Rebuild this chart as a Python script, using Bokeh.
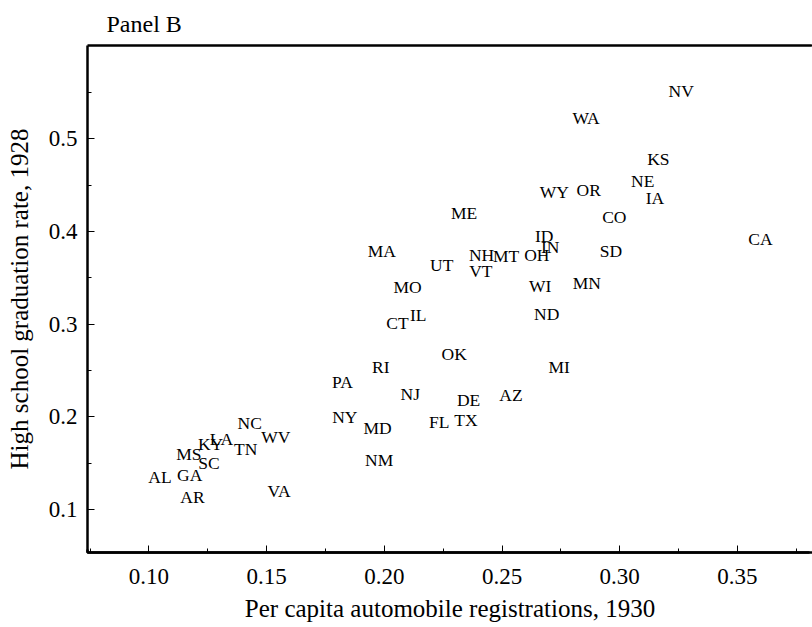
from bokeh.plotting import figure
from bokeh.models import ColumnDataSource, LinearAxis, FixedTicker, Range1d
from bokeh.core.properties import value
from bokeh.embed import file_html
from bokeh.resources import INLINE

# ---- data ----
states = ["NV", "WA", "KS", "NE", "IA", "WY", "OR", "ME", "CO", "ID", "IN", "CA",
          "NH", "MT", "OH", "SD", "VT", "WI", "MN", "ND", "MI", "AZ", "DE", "MA",
          "UT", "MO", "CT", "IL", "OK", "RI", "PA", "NJ", "NY", "MD", "FL", "TX",
          "NC", "WV", "NM", "LA", "KY", "TN", "MS", "SC", "AL", "GA", "AR", "VA"]
auto_reg_1930 = [0.3261, 0.2857, 0.3164, 0.3098, 0.3150, 0.2722, 0.2868, 0.2339,
                 0.2977, 0.2679, 0.2705, 0.3598, 0.2413, 0.2517, 0.2648, 0.2963,
                 0.2410, 0.2662, 0.2860, 0.2690, 0.2743, 0.2538, 0.2358, 0.1989,
                 0.2244, 0.2099, 0.2056, 0.2144, 0.2297, 0.1985, 0.1822, 0.2110,
                 0.1832, 0.1971, 0.2233, 0.2347, 0.1428, 0.1539, 0.1978, 0.1308,
                 0.1262, 0.1411, 0.1170, 0.1255, 0.1047, 0.1173, 0.1185, 0.1553]
hs_grad_1928 = [0.552, 0.5224, 0.4787, 0.4542, 0.4362, 0.4423, 0.4452, 0.4200,
                0.4154, 0.3956, 0.3833, 0.3924, 0.3744, 0.3733, 0.3752, 0.3787,
                0.3571, 0.3410, 0.3445, 0.3105, 0.2536, 0.2231, 0.2177, 0.3795,
                0.3636, 0.3399, 0.3014, 0.3097, 0.2680, 0.2536, 0.2375, 0.2249,
                0.1994, 0.1882, 0.1947, 0.1968, 0.1933, 0.1782, 0.1530, 0.1757,
                0.1703, 0.1656, 0.1595, 0.1505, 0.1350, 0.1369, 0.1135, 0.1199]

x_ticks = [0.10, 0.15, 0.20, 0.25, 0.30, 0.35]
x_tick_labels = ["0.10", "0.15", "0.20", "0.25", "0.30", "0.35"]
x_minor_ticks = [0.075, 0.125, 0.175, 0.225, 0.275, 0.325, 0.375]
y_ticks = [0.1, 0.2, 0.3, 0.4, 0.5]
y_tick_labels = ["0.1", "0.2", "0.3", "0.4", "0.5"]
y_minor_ticks = [0.15, 0.25, 0.35, 0.45, 0.55]

title_text = "Panel B"
x_label = "Per capita automobile registrations, 1930"
y_label = "High school graduation rate, 1928"

FONT = "Liberation Serif"

source = ColumnDataSource(dict(x=auto_reg_1930, y=hs_grad_1928, s=states))

p = figure(width=812, height=627, output_backend="svg", toolbar_location=None,
           x_range=Range1d(0.0739, 0.3819), y_range=Range1d(0.0536, 0.6008),
           min_border_left=87, min_border_right=0, min_border_top=44,
           min_border_bottom=75, x_axis_location=None, y_axis_location=None)
p.title.text = title_text
p.title.align = "left"
p.title.offset = 19
p.title.text_font = FONT
p.title.text_font_style = "normal"
p.title.text_font_size = "24px"
p.title.text_color = "black"
p.title.standoff = 17
# frame outline: draw the top edge only (right edge falls in the gap of the dash)
p.outline_line_color = "black"
p.outline_line_width = 2.5
p.outline_line_dash = "725 508"
p.xgrid.visible = False
p.ygrid.visible = False
p.background_fill_color = "white"
p.border_fill_color = "white"

p.text(x="x", y="y", text="s", source=source, text_align="center",
       text_baseline="middle", text_font=value(FONT), text_font_size="17.5px",
       text_color="black")

def style(ax, ticks, minor, labels):
    ax.ticker = FixedTicker(ticks=ticks, minor_ticks=minor)
    ax.major_label_overrides = {t: l for t, l in zip(ticks, labels)}
    ax.axis_line_width = 2.5
    ax.axis_line_color = "black"
    ax.major_tick_in = 7
    ax.major_tick_out = 0
    ax.minor_tick_in = 4
    ax.minor_tick_out = 0
    ax.major_tick_line_color = "black"
    ax.minor_tick_line_color = "black"
    ax.major_label_text_font = FONT
    ax.major_label_text_font_size = "23px"
    ax.major_label_text_color = "black"
    ax.axis_label_text_font = FONT
    ax.axis_label_text_font_size = "25px"
    ax.axis_label_text_font_style = "normal"
    ax.axis_label_text_color = "black"

xaxis = LinearAxis(axis_label=x_label)
style(xaxis, x_ticks, x_minor_ticks, x_tick_labels)
xaxis.major_label_standoff = 16
xaxis.axis_label_standoff = 8
p.add_layout(xaxis, "below")

yaxis = LinearAxis(axis_label=y_label)
style(yaxis, y_ticks, y_minor_ticks, y_tick_labels)
yaxis.major_label_standoff = 10
yaxis.axis_label_standoff = 13
yaxis.major_label_orientation = "horizontal"
p.add_layout(yaxis, "left")

open("out.html", "w").write(file_html(p, INLINE))
